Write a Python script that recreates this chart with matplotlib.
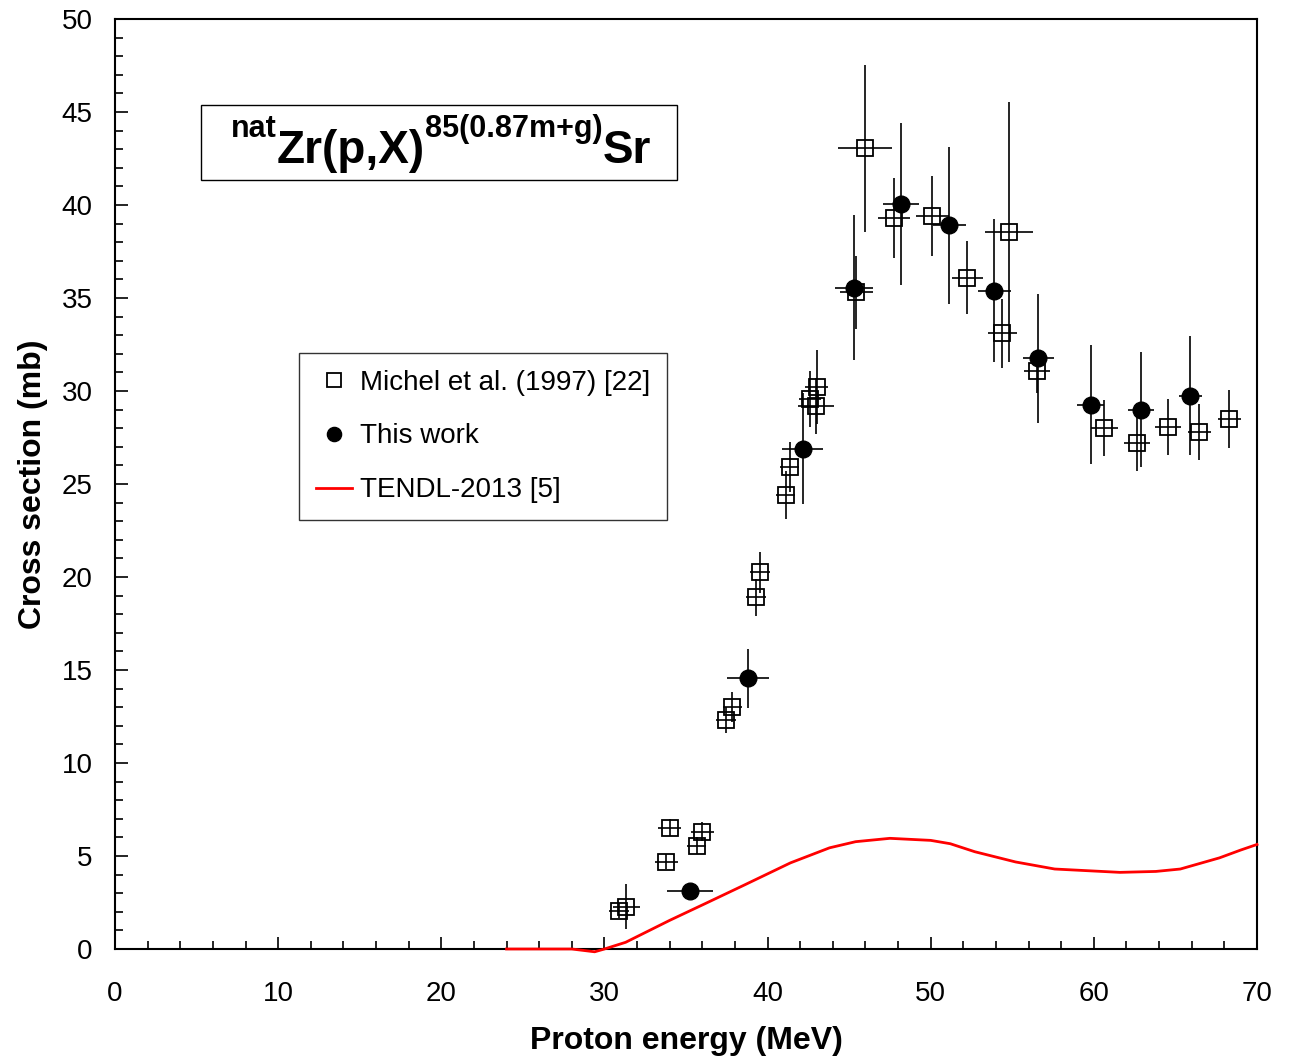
import numpy as np
import matplotlib
matplotlib.use('Agg')
import matplotlib.pyplot as plt
from matplotlib.ticker import MultipleLocator
from matplotlib.patches import Rectangle

plt.rcParams['font.family'] = ['Liberation Sans', 'DejaVu Sans']

# Michel et al. (1997) - open squares
mi_E = [30.9, 31.35, 33.8, 34.0, 35.65, 36.0, 37.45, 37.85, 39.3, 39.55, 41.1, 41.35,
        42.6, 43.0, 42.95, 45.45, 45.95, 47.75, 50.1, 52.25, 54.4, 54.8, 56.5,
        60.65, 62.65, 64.55, 66.45, 68.3]
mi_s = [2.06, 2.28, 4.7, 6.52, 5.55, 6.31, 12.3, 13.0, 18.9, 20.25, 24.4, 25.9,
        29.55, 30.2, 29.2, 35.3, 43.05, 39.3, 39.4, 36.1, 33.1, 38.55, 31.05,
        28.0, 27.2, 28.05, 27.8, 28.5]
mi_dE = [0.6, 0.8, 0.7, 0.7, 0.6, 0.7, 0.6, 0.6, 0.6, 0.6, 0.6, 0.6,
         0.7, 0.7, 1.1, 1.0, 1.65, 1.0, 1.0, 0.95, 0.9, 1.45, 0.8,
         0.8, 0.8, 0.8, 0.7, 0.7]
mi_ds = [0.4, 1.2, 0.4, 0.45, 0.45, 0.5, 0.7, 0.8, 1.0, 1.1, 1.3, 1.35,
         1.5, 2.0, 1.5, 1.95, 4.5, 2.15, 2.15, 1.95, 1.85, 7.0, 1.15,
         1.5, 1.5, 1.5, 1.5, 1.55]

# This work - filled circles
tw_E = [35.25, 38.8, 42.15, 45.3, 48.2, 51.15, 53.9, 56.6, 59.8, 62.9, 65.9]
tw_s = [3.1, 14.55, 26.9, 35.55, 40.05, 38.9, 35.4, 31.75, 29.25, 29.0, 29.75]
tw_dE = [1.4, 1.3, 1.25, 1.15, 1.1, 1.0, 1.0, 0.95, 0.85, 0.8, 0.7]
tw_ds = [0.0, 1.6, 3.0, 3.9, 4.35, 4.2, 3.85, 3.45, 3.2, 3.1, 3.2]

# TENDL-2013
te_E = [24.0, 28.0, 29.4, 30.0, 31.3, 34.0, 36.2, 38.6, 41.4, 43.8, 45.4, 47.5,
        50.0, 51.2, 52.7, 55.2, 57.6, 61.6, 63.8, 65.3, 67.7, 69.0, 70.0]
te_s = [0.0, 0.0, -0.15, 0.0, 0.36, 1.54, 2.45, 3.45, 4.63, 5.44, 5.77, 5.95,
        5.84, 5.66, 5.23, 4.68, 4.30, 4.12, 4.17, 4.30, 4.90, 5.32, 5.62]

W, H = 1291, 1061
fig = plt.figure(figsize=(W / 100, H / 100), dpi=100)
ax = fig.add_axes([115 / W, 1 - 949 / H, 1142 / W, 930 / H])

ax.plot(te_E, te_s, color='red', lw=2, label='TENDL-2013 [5]', zorder=2.6, clip_on=False)
ax.errorbar(mi_E, mi_s, xerr=mi_dE, yerr=mi_ds, fmt='none', ecolor='black',
            elinewidth=1.2, capsize=0, zorder=3)
ax.plot(mi_E, mi_s, ls='none', marker='s', ms=11.5, mfc='none', mec='black',
        mew=1.3, label='Michel et al. (1997) [22]', zorder=4)
ax.errorbar(tw_E, tw_s, xerr=tw_dE, yerr=tw_ds, fmt='none', ecolor='black',
            elinewidth=1.2, capsize=0, zorder=3)
ax.plot(tw_E, tw_s, ls='none', marker='o', ms=12, color='black',
        label='This work', zorder=5)

ax.set_xlim(0, 70)
ax.set_ylim(0, 50)
ax.xaxis.set_major_locator(MultipleLocator(10))
ax.xaxis.set_minor_locator(MultipleLocator(2))
ax.yaxis.set_major_locator(MultipleLocator(5))
ax.yaxis.set_minor_locator(MultipleLocator(1))
ax.tick_params(which='both', direction='in', top=False, right=False,
               labelsize=20, width=1.2)
ax.tick_params(which='major', length=9)
ax.tick_params(which='minor', length=6)
ax.tick_params(axis='x', which='major', pad=23)
ax.tick_params(axis='y', which='major', pad=16)
for sp in ax.spines.values():
    sp.set_linewidth(1.5)

ax.set_xlabel('Proton energy (MeV)', fontsize=23, fontweight='bold', labelpad=14)
ax.set_ylabel('Cross section (mb)', fontsize=23, fontweight='bold', labelpad=10)

# reaction label built piece by piece (no mathtext spacing)
fig.canvas.draw()
rend = fig.canvas.get_renderer()
pieces = [('nat', 22, 26), ('Zr(p,X)', 33, 0), ('85(0.87m+g)', 22, 26), ('Sr', 33, 0)]
x, base = 231, 163
for s, size, lift in pieces:
    t = fig.text(x / W, 1 - (base - lift) / H, s, fontsize=size, fontweight='bold',
                 ha='left', va='baseline')
    x = t.get_window_extent(rend).x1
fig.patches.append(Rectangle((201 / W, 1 - 180 / H), 476 / W, 75 / H, transform=fig.transFigure,
                             fc='none', ec='black', lw=1))

h, l = ax.get_legend_handles_labels()
order = [1, 2, 0]
leg = ax.legend([h[i] for i in order], [l[i] for i in order], loc='upper left',
                bbox_to_anchor=((299 - 115) / 1142, (949 - 353) / 930), fontsize=20,
                frameon=True, fancybox=False, edgecolor='black', handlelength=1.3,
                handletextpad=0.3, labelspacing=1.0, borderpad=0.6, borderaxespad=0,
                markerscale=0.85)
leg.get_frame().set_linewidth(1)

fig.savefig('out.png', dpi=100, facecolor='white')
